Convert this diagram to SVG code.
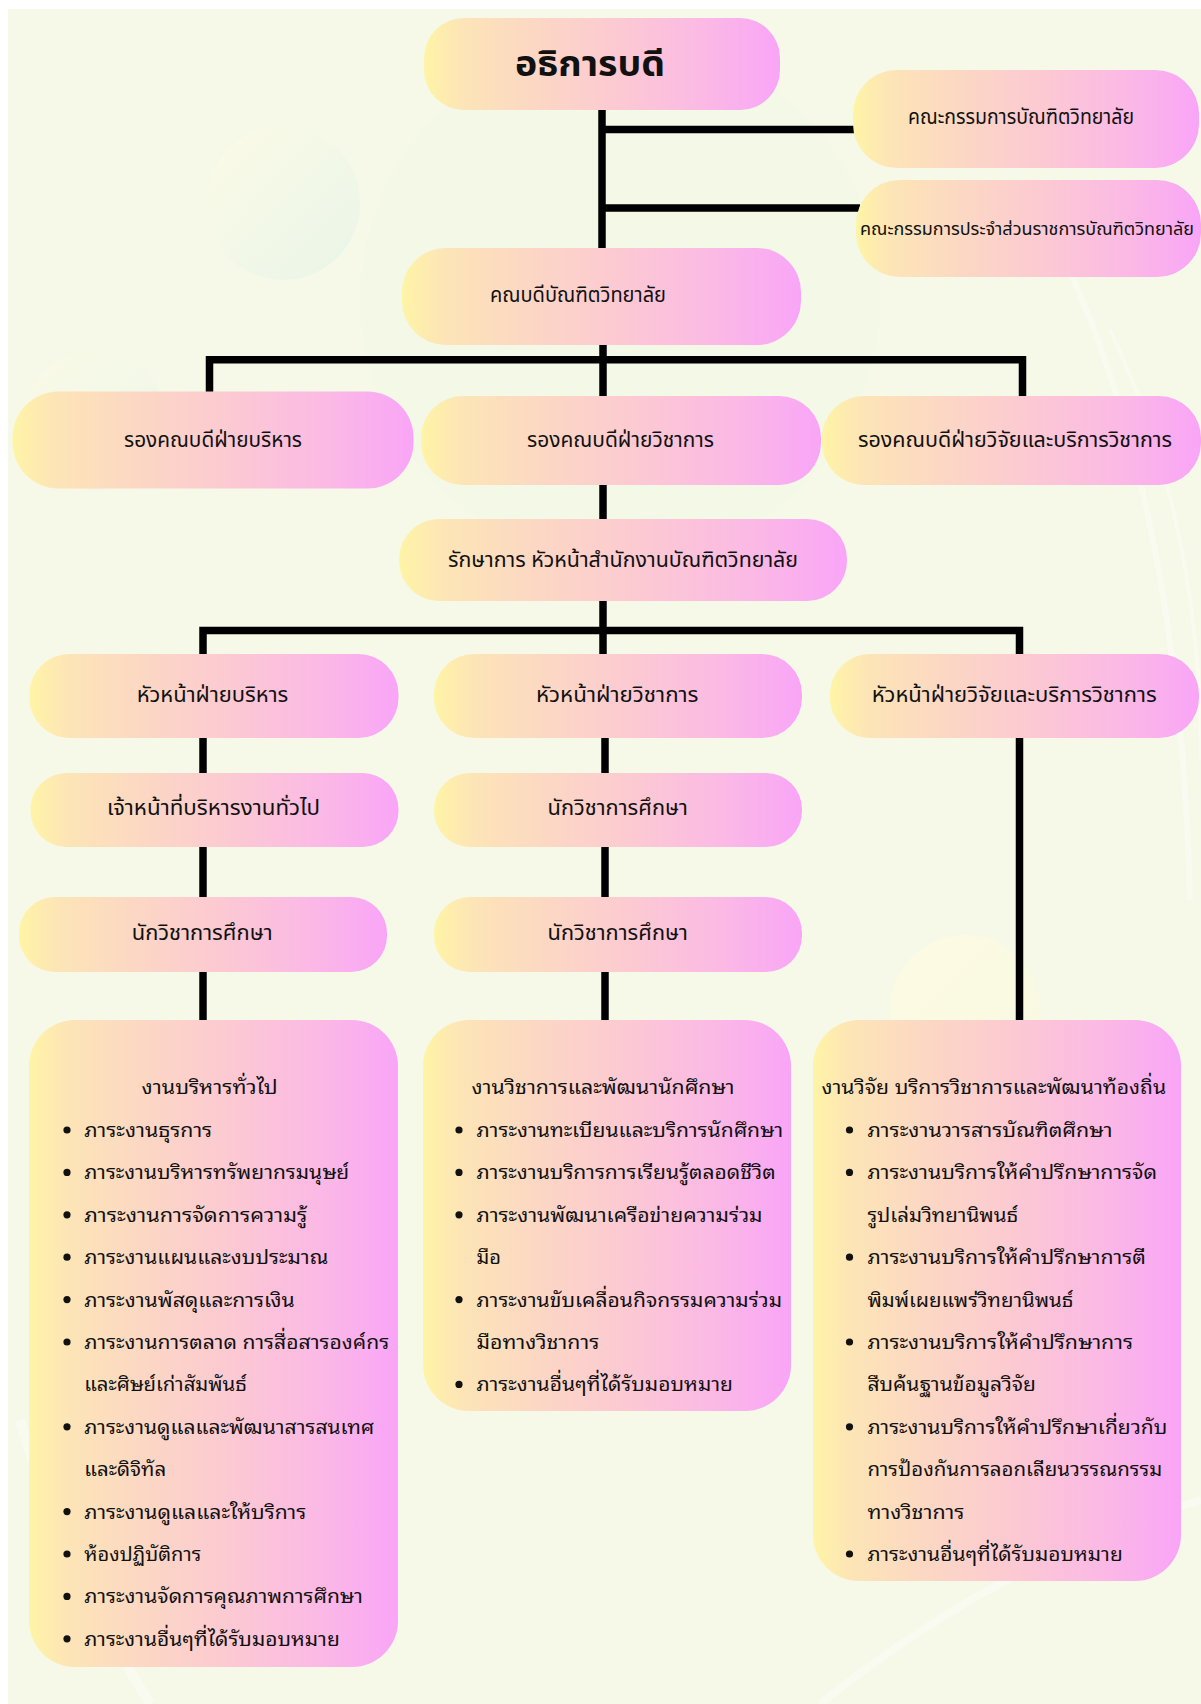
<svg xmlns="http://www.w3.org/2000/svg" width="1201" height="1704" viewBox="0 0 1201 1704">
<defs>
<linearGradient id="box" x1="0" y1="0" x2="1" y2="0">
<stop offset="0" stop-color="#fff4a6"/>
<stop offset="0.1" stop-color="#fde5b6"/>
<stop offset="0.3" stop-color="#fcd8c3"/>
<stop offset="0.55" stop-color="#fcc9d3"/>
<stop offset="0.8" stop-color="#fbb8e6"/>
<stop offset="1" stop-color="#f9a5f7"/>
</linearGradient>
<linearGradient id="bub" x1="0" y1="0" x2="1" y2="1">
<stop offset="0" stop-color="#fdfbe6"/>
<stop offset="1" stop-color="#e6f4e8"/>
</linearGradient>
<linearGradient id="bubY" x1="0" y1="0" x2="1" y2="1">
<stop offset="0" stop-color="#fefbe2"/>
<stop offset="1" stop-color="#f9f8e0"/>
</linearGradient>
</defs>
<style>
.n{fill:url(#box)}
.t{font-family:"Noto Sans Thai","Noto Sans",sans-serif;font-size:21px;fill:#111}
.l{font-family:"Noto Sans Thai Looped","Noto Sans Thai","Noto Sans",sans-serif;font-size:20px;fill:#111}
.c{stroke:#000;stroke-width:7.5;fill:none}
</style>
<rect x="0" y="0" width="1201" height="1704" fill="#ffffff"/>
<rect x="8" y="9" width="1193" height="1695" fill="#f6f9e8"/>
<g id="background">
<circle cx="283" cy="203" r="77" fill="url(#bub)" opacity="0.8"/>
<circle cx="95" cy="420" r="70" fill="url(#bub)" opacity="0.6"/>
<circle cx="965" cy="1010" r="75" fill="url(#bubY)" opacity="0.8"/>
<circle cx="620" cy="300" r="260" fill="#eef6e6" opacity="0.35"/>
<path d="M1060 250 Q1180 500 1190 900" stroke="#ffffff" stroke-width="6" fill="none" opacity="0.35"/>
<path d="M1110 330 Q1201 520 1201 760" stroke="#ffffff" stroke-width="4" fill="none" opacity="0.3"/>
<path d="M20 1420 Q60 1560 150 1704" stroke="#ffffff" stroke-width="10" fill="none" opacity="0.4"/>
<path d="M820 1704 Q1000 1560 1201 1500" stroke="#ffffff" stroke-width="8" fill="none" opacity="0.35"/>
</g>
<g id="connectors" class="c">
<line x1="602" y1="108" x2="602" y2="250"/>
<line x1="602" y1="129.5" x2="856" y2="129.5"/>
<line x1="602" y1="208" x2="860" y2="208"/>
<line x1="603" y1="343" x2="603" y2="398"/>
<polyline points="209.5,393 209.5,359.7 1022.5,359.7 1022.5,398"/>
<line x1="603" y1="483" x2="603" y2="521"/>
<line x1="603" y1="599" x2="603" y2="656"/>
<polyline points="203,656 203,630.5 1019.5,630.5 1019.5,1023"/>
<line x1="203" y1="736" x2="203" y2="775"/>
<line x1="203" y1="845" x2="203" y2="899"/>
<line x1="203" y1="970" x2="203" y2="1023"/>
<line x1="605" y1="736" x2="605" y2="775"/>
<line x1="605" y1="845" x2="605" y2="899"/>
<line x1="605" y1="970" x2="605" y2="1023"/>
</g>
<g id="n-president"><rect class="n" x="424" y="18" width="356" height="92" rx="40"/><text x="515" y="76" textLength="150" lengthAdjust="spacingAndGlyphs" style="font-family:'Noto Sans Thai','Noto Sans',sans-serif;font-size:36px;font-weight:bold;fill:#111">อธิการบดี</text></g>
<g id="n-committee1"><rect class="n" x="853" y="70" width="346" height="98" rx="44"/><text class="t" x="908" y="124" textLength="226" lengthAdjust="spacingAndGlyphs">คณะกรรมการบัณฑิตวิทยาลัย</text></g>
<g id="n-committee2"><rect class="n" x="856" y="180" width="345" height="97" rx="44"/><text class="t" x="860" y="235" textLength="334" lengthAdjust="spacingAndGlyphs" style="font-size:18.5px">คณะกรรมการประจำส่วนราชการบัณฑิตวิทยาลัย</text></g>
<g id="n-dean"><rect class="n" x="402" y="248" width="399" height="97" rx="44"/><text class="t" x="490" y="302" textLength="176" lengthAdjust="spacingAndGlyphs">คณบดีบัณฑิตวิทยาลัย</text></g>
<g id="n-vd-admin"><rect class="n" x="12.5" y="391.5" width="401" height="97" rx="46"/><text class="t" x="124" y="446.5" textLength="178" lengthAdjust="spacingAndGlyphs">รองคณบดีฝ่ายบริหาร</text></g>
<g id="n-vd-acad"><rect class="n" x="421" y="396" width="400" height="89" rx="42"/><text class="t" x="527" y="446.5" textLength="187" lengthAdjust="spacingAndGlyphs">รองคณบดีฝ่ายวิชาการ</text></g>
<g id="n-vd-research"><rect class="n" x="822" y="396" width="379" height="89" rx="42"/><text class="t" x="858" y="446.5" textLength="314" lengthAdjust="spacingAndGlyphs">รองคณบดีฝ่ายวิจัยและบริการวิชาการ</text></g>
<g id="n-office"><rect class="n" x="399" y="519" width="448" height="82" rx="40"/><text class="t" x="448" y="566.5" textLength="350" lengthAdjust="spacingAndGlyphs">รักษาการ หัวหน้าสำนักงานบัณฑิตวิทยาลัย</text></g>
<g id="n-head-admin"><rect class="n" x="29.5" y="654" width="369" height="84" rx="40"/><text class="t" x="136.7" y="701.5" textLength="151.6" lengthAdjust="spacingAndGlyphs">หัวหน้าฝ่ายบริหาร</text></g>
<g id="n-head-acad"><rect class="n" x="434" y="654" width="368" height="84" rx="40"/><text class="t" x="536" y="701.5" textLength="162.5" lengthAdjust="spacingAndGlyphs">หัวหน้าฝ่ายวิชาการ</text></g>
<g id="n-head-research"><rect class="n" x="830" y="654" width="369" height="84" rx="40"/><text class="t" x="871.7" y="701.5" textLength="285" lengthAdjust="spacingAndGlyphs">หัวหน้าฝ่ายวิจัยและบริการวิชาการ</text></g>
<g id="n-staff"><rect class="n" x="30.5" y="773" width="368" height="74" rx="36"/><text class="t" x="107" y="814.5" textLength="213" lengthAdjust="spacingAndGlyphs">เจ้าหน้าที่บริหารงานทั่วไป</text></g>
<g id="n-edu1"><rect class="n" x="434" y="773" width="368" height="74" rx="36"/><text class="t" x="547.6" y="814.5" textLength="140.2" lengthAdjust="spacingAndGlyphs">นักวิชาการศึกษา</text></g>
<g id="n-edu2"><rect class="n" x="19" y="897" width="368" height="75" rx="36"/><text class="t" x="131.7" y="939.5" textLength="141" lengthAdjust="spacingAndGlyphs">นักวิชาการศึกษา</text></g>
<g id="n-edu3"><rect class="n" x="434" y="897" width="368" height="75" rx="36"/><text class="t" x="547.6" y="939.5" textLength="140.2" lengthAdjust="spacingAndGlyphs">นักวิชาการศึกษา</text></g>
<g id="n-admin-work">
<rect class="n" x="29" y="1020" width="369" height="647" rx="46"/>
<text class="l" x="141.6" y="1094" textLength="136" lengthAdjust="spacingAndGlyphs">งานบริหารทั่วไป</text>
<g fill="#111"><circle cx="67" cy="1130" r="3.6"/><circle cx="67" cy="1172.4" r="3.6"/><circle cx="67" cy="1214.8" r="3.6"/><circle cx="67" cy="1257.2" r="3.6"/><circle cx="67" cy="1299.6" r="3.6"/><circle cx="67" cy="1342" r="3.6"/><circle cx="67" cy="1426.8" r="3.6"/><circle cx="67" cy="1511.6" r="3.6"/><circle cx="67" cy="1554" r="3.6"/><circle cx="67" cy="1596.4" r="3.6"/><circle cx="67" cy="1638.8" r="3.6"/></g>
<text class="l" x="84.2" y="1137" textLength="128" lengthAdjust="spacingAndGlyphs">ภาระงานธุรการ</text>
<text class="l" x="84.2" y="1179.4" textLength="265" lengthAdjust="spacingAndGlyphs">ภาระงานบริหารทรัพยากรมนุษย์</text>
<text class="l" x="84.2" y="1221.8" textLength="223" lengthAdjust="spacingAndGlyphs">ภาระงานการจัดการความรู้</text>
<text class="l" x="84.2" y="1264.2" textLength="244" lengthAdjust="spacingAndGlyphs">ภาระงานแผนและงบประมาณ</text>
<text class="l" x="84.2" y="1306.6" textLength="210.5" lengthAdjust="spacingAndGlyphs">ภาระงานพัสดุและการเงิน</text>
<text class="l" x="84.2" y="1349" textLength="305" lengthAdjust="spacingAndGlyphs">ภาระงานการตลาด การสื่อสารองค์กร</text>
<text class="l" x="84.2" y="1391.4" textLength="162.6" lengthAdjust="spacingAndGlyphs">และศิษย์เก่าสัมพันธ์</text>
<text class="l" x="84.2" y="1433.8" textLength="290" lengthAdjust="spacingAndGlyphs">ภาระงานดูแลและพัฒนาสารสนเทศ</text>
<text class="l" x="84.2" y="1476.2" textLength="82" lengthAdjust="spacingAndGlyphs">และดิจิทัล</text>
<text class="l" x="84.2" y="1518.6" textLength="222" lengthAdjust="spacingAndGlyphs">ภาระงานดูแลและให้บริการ</text>
<text class="l" x="84.2" y="1561" textLength="117" lengthAdjust="spacingAndGlyphs">ห้องปฏิบัติการ</text>
<text class="l" x="84.2" y="1603.4" textLength="278.6" lengthAdjust="spacingAndGlyphs">ภาระงานจัดการคุณภาพการศึกษา</text>
<text class="l" x="84.2" y="1645.8" textLength="255.6" lengthAdjust="spacingAndGlyphs">ภาระงานอื่นๆที่ได้รับมอบหมาย</text>
</g>
<g id="n-acad-work">
<rect class="n" x="423" y="1020" width="368" height="391" rx="46"/>
<text class="l" x="471.5" y="1094" textLength="263" lengthAdjust="spacingAndGlyphs">งานวิชาการและพัฒนานักศึกษา</text>
<g fill="#111"><circle cx="459" cy="1130" r="3.6"/><circle cx="459" cy="1172.4" r="3.6"/><circle cx="459" cy="1214.8" r="3.6"/><circle cx="459" cy="1299.6" r="3.6"/><circle cx="459" cy="1384.4" r="3.6"/></g>
<text class="l" x="476.6" y="1137" textLength="306.5" lengthAdjust="spacingAndGlyphs">ภาระงานทะเบียนและบริการนักศึกษา</text>
<text class="l" x="476.6" y="1179.4" textLength="299" lengthAdjust="spacingAndGlyphs">ภาระงานบริการการเรียนรู้ตลอดชีวิต</text>
<text class="l" x="476.6" y="1221.8" textLength="286" lengthAdjust="spacingAndGlyphs">ภาระงานพัฒนาเครือข่ายความร่วม</text>
<text class="l" x="476.6" y="1264.2" textLength="24.5" lengthAdjust="spacingAndGlyphs">มือ</text>
<text class="l" x="476.6" y="1306.6" textLength="305.5" lengthAdjust="spacingAndGlyphs">ภาระงานขับเคลื่อนกิจกรรมความร่วม</text>
<text class="l" x="476.6" y="1349" textLength="122.6" lengthAdjust="spacingAndGlyphs">มือทางวิชาการ</text>
<text class="l" x="476.6" y="1391.4" textLength="256.4" lengthAdjust="spacingAndGlyphs">ภาระงานอื่นๆที่ได้รับมอบหมาย</text>
</g>
<g id="n-research-work">
<rect class="n" x="813" y="1020" width="368" height="561" rx="46"/>
<text class="l" x="821.4" y="1094" textLength="344.8" lengthAdjust="spacingAndGlyphs">งานวิจัย บริการวิชาการและพัฒนาท้องถิ่น</text>
<g fill="#111"><circle cx="849.5" cy="1130" r="3.6"/><circle cx="849.5" cy="1172.4" r="3.6"/><circle cx="849.5" cy="1257.2" r="3.6"/><circle cx="849.5" cy="1342" r="3.6"/><circle cx="849.5" cy="1426.8" r="3.6"/><circle cx="849.5" cy="1554" r="3.6"/></g>
<text class="l" x="867.4" y="1137" textLength="245" lengthAdjust="spacingAndGlyphs">ภาระงานวารสารบัณฑิตศึกษา</text>
<text class="l" x="867.4" y="1179.4" textLength="289.7" lengthAdjust="spacingAndGlyphs">ภาระงานบริการให้คำปรึกษาการจัด</text>
<text class="l" x="867.4" y="1221.8" textLength="150.7" lengthAdjust="spacingAndGlyphs">รูปเล่มวิทยานิพนธ์</text>
<text class="l" x="867.4" y="1264.2" textLength="278.4" lengthAdjust="spacingAndGlyphs">ภาระงานบริการให้คำปรึกษาการตี</text>
<text class="l" x="867.4" y="1306.6" textLength="206" lengthAdjust="spacingAndGlyphs">พิมพ์เผยแพร่วิทยานิพนธ์</text>
<text class="l" x="867.4" y="1349" textLength="265.6" lengthAdjust="spacingAndGlyphs">ภาระงานบริการให้คำปรึกษาการ</text>
<text class="l" x="867.4" y="1391.4" textLength="168.6" lengthAdjust="spacingAndGlyphs">สืบค้นฐานข้อมูลวิจัย</text>
<text class="l" x="867.4" y="1433.8" textLength="300" lengthAdjust="spacingAndGlyphs">ภาระงานบริการให้คำปรึกษาเกี่ยวกับ</text>
<text class="l" x="867.4" y="1476.2" textLength="294.8" lengthAdjust="spacingAndGlyphs">การป้องกันการลอกเลียนวรรณกรรม</text>
<text class="l" x="867.4" y="1518.6" textLength="97" lengthAdjust="spacingAndGlyphs">ทางวิชาการ</text>
<text class="l" x="867.4" y="1561" textLength="255.4" lengthAdjust="spacingAndGlyphs">ภาระงานอื่นๆที่ได้รับมอบหมาย</text>
</g>
</svg>
